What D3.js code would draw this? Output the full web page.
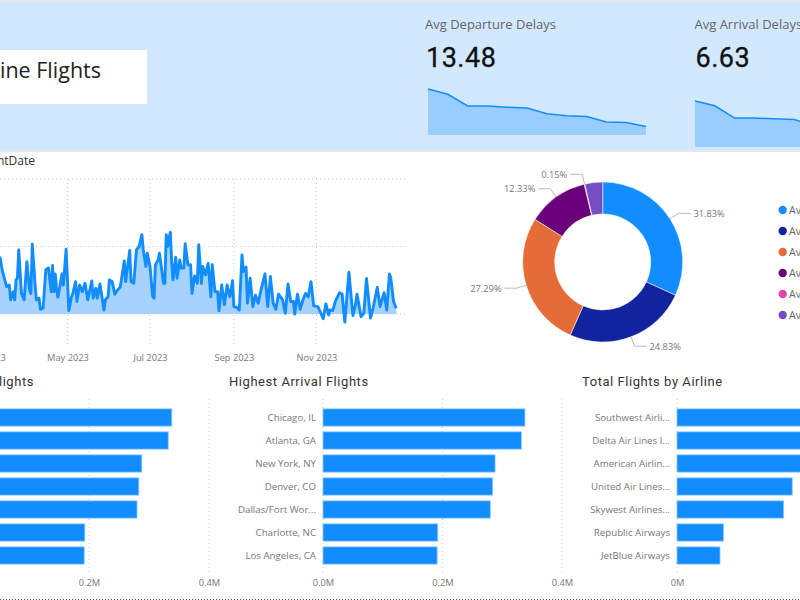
<!DOCTYPE html>
<html>
<head>
<meta charset="utf-8">
<script src="https://cdn.jsdelivr.net/npm/d3@7"></script>
<style>
html, body { margin: 0; padding: 0; background: #fff; overflow: hidden; }
svg { display: block; font-family: "Open Sans", sans-serif; }
.grid { stroke: #c8c8c8; stroke-dasharray: 1 3; fill: none; }
.tick-label { fill: #777; font-size: 9.3px; }
.cat-label { fill: #777; font-size: 9.7px; }
.title { fill: #333; font-family: Roboto, sans-serif; font-size: 13px; letter-spacing: 0.55px; }
</style>
</head>
<body>
<svg id="chart" width="800" height="600"></svg>
<script>
// days counted from 1 Jan 2023
var delayDays = [70, 72, 75, 77, 78, 80, 81, 82, 83, 84,
    86, 88, 90, 92, 93, 94, 96, 97, 99, 100,
    102, 104, 106, 108, 109, 110, 111, 112, 113, 116,
    117, 119, 121, 123, 124, 126, 127, 129, 131, 133,
    135, 138, 139, 141, 142, 144, 147, 148, 150, 151,
    153, 155, 157, 159, 162, 163, 166, 167, 169, 171,
    173, 175, 176, 178, 179, 181, 183, 184, 185, 187,
    188, 191, 192, 193, 194, 196, 197, 198, 200, 201,
    203, 204, 206, 207, 209, 211, 212, 214, 216, 217,
    219, 220, 222, 224, 226, 227, 229, 231, 232, 234,
    236, 238, 240, 241, 242, 243, 245, 247, 249, 250,
    252, 253, 255, 257, 259, 261, 263, 266, 268, 270,
    272, 274, 276, 279, 281, 283, 285, 287, 288, 290,
    292, 294, 296, 298, 300, 302, 305, 306, 309, 311,
    313, 314, 316, 318, 321, 323, 325, 328, 331, 333,
    334, 337, 339, 341, 344, 346, 349, 351, 354, 356,
    358, 359, 361, 363];
var delayValues = [17.0, 12.6, 8.1, 8.6, 4.2, 6.6, 4.2, 10.1, 10.6, 19.0,
    6.1, 4.2, 15.5, 7.1, 6.1, 20.7, 9.1, 4.2, 4.7, 1.4,
    1.7, 13.1, 13.6, 6.6, 14.4, 6.6, 11.9, 7.1, 5.0, 11.9,
    8.6, 19.2, 1.0, 5.1, 6.1, 9.6, 3.7, 8.6, 6.6, 9.1,
    4.2, 9.8, 4.7, 7.6, 4.7, 8.9, 1.2, 4.2, 5.1, 10.1,
    9.6, 5.9, 7.1, 7.9, 15.7, 9.6, 18.8, 9.6, 9.1, 19.0,
    20.0, 23.5, 19.0, 14.1, 18.0, 14.1, 5.1, 4.7, 14.6, 16.0,
    18.0, 9.1, 9.1, 23.5, 20.0, 24.2, 15.5, 10.1, 16.8, 10.6,
    16.0, 13.6, 13.6, 20.8, 14.6, 14.6, 6.1, 11.3, 9.1, 20.5,
    9.1, 14.1, 11.6, 15.0, 5.1, 14.6, 6.6, 6.6, 1.0, 8.6,
    2.7, 8.6, 5.1, 7.1, 9.9, 2.2, 2.0, 1.2, 17.5, 12.6,
    13.9, 3.2, 10.6, 2.2, 5.6, 3.2, 7.1, 11.9, 2.2, 11.1,
    3.2, 1.4, 5.9, 4.2, 0.2, 8.9, 3.7, 3.7, 0, 5.9,
    1.4, 4.2, 6.1, 5.1, 9.6, 2.4, 2.2, 1.4, -1.4, 3.0,
    -0.3, 1.2, 1.0, 3.7, 6.3, 5.9, -2.4, 12.4, -0.5, 3.0,
    5.9, -0.8, 0.2, 10.5, -1.2, 2.0, 7.9, 2.2, 6.3, 1.2,
    11.9, 10.6, 3.7, 1.7];

var departureSpark = [25.2, 22.3, 15.9, 15.9, 15.2, 14.8, 11.7, 10.6, 10.1, 7.1, 6.9, 4.6];
var arrivalSpark = [12.4, 11.1, 7.8, 7.8, 7.6, 7.4, 5.8, 5.2, 4.9, 3.5, 3.4, 2.2];

var donutNames = ["Avg Carrier Delay", "Avg Late Aircraft Delay", "Avg NAS Delay", "Avg Weather Delay", "Avg Security Delay", "Avg Other Delay"];
var donutValues = [31.83, 24.83, 27.29, 12.33, 0.15, 3.57];
var donutLabels = ["31.83%", "24.83%", "27.29%", "12.33%", "0.15%", ""];
var donutColors = ["#118DFF", "#12239E", "#E66C37", "#6B007B", "#E044A7", "#744EC2"];

var cities = ["Chicago, IL", "Atlanta, GA", "New York, NY", "Denver, CO", "Dallas/Fort Wor...", "Charlotte, NC", "Los Angeles, CA"];
var departureFlights = [0.338, 0.332, 0.288, 0.283, 0.280, 0.193, 0.192];
var arrivalFlights = [0.338, 0.332, 0.288, 0.284, 0.280, 0.192, 0.191];
var airlines = ["Southwest Airli...", "Delta Air Lines I...", "American Airlin...", "United Air Lines...", "Skywest Airlines...", "Republic Airways", "JetBlue Airways"];
var airlineFlights = [1.0, 0.9, 0.85, 0.67, 0.62, 0.27, 0.25];

var svg = d3.select("#chart");

// header band
svg.append("rect").attr("x", 0).attr("y", 0).attr("width", 800).attr("height", 152).attr("fill", "#e4e8ec");
svg.append("rect").attr("x", 0).attr("y", 2).attr("width", 800).attr("height", 148).attr("fill", "#d2e8ff");
svg.append("rect").attr("x", 0).attr("y", 50).attr("width", 147).attr("height", 54).attr("fill", "#fff");
svg.append("text").attr("x", 101).attr("y", 78).attr("text-anchor", "end")
    .attr("font-size", 21.5).attr("fill", "#222").text("Airline Flights");

function kpi(label, value, values, textLeft, left, base) {
    svg.append("text").attr("x", textLeft).attr("y", 29).attr("font-size", 13).attr("fill", "#666").text(label);
    svg.append("text").attr("x", textLeft + 1).attr("y", 67).attr("font-family", "Roboto, sans-serif")
        .attr("font-size", 27).attr("letter-spacing", 0.5).attr("fill", "#111")
        .attr("stroke", "#111").attr("stroke-width", 0.3).text(value);
    var x = d3.scalePoint().domain(d3.range(values.length)).range([left, left + 218]);
    var y = d3.scaleLinear().domain([0, d3.max(values)]).range([base, base - 46]);
    svg.append("path").datum(values).attr("fill", "#99cdff")
        .attr("d", d3.area().x(function (d, i) { return x(i); }).y0(base).y1(function (d) { return y(d); }));
    svg.append("path").datum(values).attr("fill", "none").attr("stroke", "#118DFF").attr("stroke-width", 1.5)
        .attr("d", d3.line().x(function (d, i) { return x(i); }).y(function (d) { return y(d); }));
}
kpi("Avg Departure Delays", "13.48", departureSpark, 425, 428, 135);
kpi("Avg Arrival Delays", "6.63", arrivalSpark, 694.5, 695, 147);

// line chart
svg.append("text").attr("x", 35).attr("y", 164.5).attr("text-anchor", "end")
    .attr("font-size", 12).attr("fill", "#333").text("Avg Delays by EventDate");

var start = new Date(Date.UTC(2023, 0, 1));
var lineX = d3.scaleUtc()
    .domain([start, new Date(Date.UTC(2023, 11, 31))])
    .range([-94.9, 397.6]);
var lineY = d3.scaleLinear().domain([-10, 40]).range([347.75, 179]);
var dayDate = function (d) { return d3.utcDay.offset(start, d); };

svg.append("g").selectAll("line").data(lineY.ticks(3).filter(function (d) { return d >= 0; })).join("line")
    .attr("class", "grid").attr("x1", 0).attr("x2", 405)
    .attr("y1", function (d) { return lineY(d); }).attr("y2", function (d) { return lineY(d); });
var monthTicks = lineX.ticks(d3.utcMonth.every(2));
svg.append("g").selectAll("line").data(monthTicks).join("line")
    .attr("class", "grid").attr("y1", 179).attr("y2", 347)
    .attr("x1", function (d) { return lineX(d); }).attr("x2", function (d) { return lineX(d); });

var xAxis = svg.append("g").attr("transform", "translate(0,347)")
    .call(d3.axisBottom(lineX).tickValues(monthTicks).tickSize(0).tickPadding(7).tickFormat(d3.utcFormat("%b %Y")));
xAxis.select(".domain").remove();
xAxis.selectAll("text").attr("class", "tick-label").attr("font-family", "Open Sans, sans-serif");

svg.append("path").datum(delayDays).attr("fill", "#a5d2ff")
    .attr("d", d3.area()
        .x(function (d) { return lineX(dayDate(d)); })
        .y0(lineY(0))
        .y1(function (d, i) { return lineY(Math.max(delayValues[i], 0)); }));
svg.append("path").datum(delayDays).attr("fill", "none").attr("stroke", "#118DFF").attr("stroke-width", 2.9)
    .attr("stroke-linejoin", "round")
    .attr("d", d3.line()
        .x(function (d) { return lineX(dayDate(d)); })
        .y(function (d, i) { return lineY(delayValues[i]); }));

// donut
var donut = svg.append("g").attr("transform", "translate(602.7,262)");
var pie = d3.pie().sort(null).value(function (d) { return d; });
var arc = d3.arc().innerRadius(48).outerRadius(80);
var rimArc = d3.arc().innerRadius(80).outerRadius(80);
var elbowArc = d3.arc().innerRadius(90).outerRadius(90);
var slices = pie(donutValues);

donut.selectAll("path.slice").data(slices).join("path")
    .attr("class", "slice")
    .attr("d", arc)
    .attr("fill", function (d, i) { return donutColors[i]; })
    .attr("stroke", "#fff").attr("stroke-width", 0.5);

slices.forEach(function (s, i) {
    if (!donutLabels[i]) return;
    var rim = rimArc.centroid(s);
    var elbow = elbowArc.centroid(s);
    var side = elbow[0] > 0 ? 1 : -1;
    donut.append("polyline").attr("fill", "none").attr("stroke", "#bbb")
        .attr("points", [rim, elbow, [elbow[0] + side * 12, elbow[1]]].join(" "));
    donut.append("text").attr("x", elbow[0] + side * 15).attr("y", elbow[1] + 3.5)
        .attr("text-anchor", side > 0 ? "start" : "end")
        .attr("font-size", 9.3).attr("fill", "#777").text(donutLabels[i]);
});

var legendY = d3.scalePoint().domain(donutNames).range([210, 315]);
donutNames.forEach(function (name, i) {
    svg.append("circle").attr("cx", 782.7).attr("cy", legendY(name)).attr("r", 4.2).attr("fill", donutColors[i]);
    svg.append("text").attr("x", 789).attr("y", legendY(name) + 4).attr("font-size", 10.5).attr("fill", "#666").text(name);
});

// bar charts
function barChart(title, titleX, anchor, names, values, domain, range, ticks, fmt) {
    svg.append("text").attr("class", "title").attr("x", titleX).attr("y", 386).attr("text-anchor", anchor).text(title);
    var x = d3.scaleLinear().domain(domain).range(range);
    var y = d3.scaleBand().domain(names).range([406, 567]).paddingInner(0.25).paddingOuter(0.125);

    svg.append("g").selectAll("line").data(ticks).join("line")
        .attr("class", "grid").attr("y1", 399).attr("y2", 574)
        .attr("x1", function (d) { return x(d); }).attr("x2", function (d) { return x(d); });

    svg.append("g").selectAll("rect").data(values).join("rect")
        .attr("x", x(0))
        .attr("y", function (d, i) { return y(names[i]); })
        .attr("width", function (d) { return x(d) - x(0); })
        .attr("height", y.bandwidth())
        .attr("fill", "#118DFF").attr("stroke", "#8cc6ff").attr("stroke-width", 0.8);

    var left = svg.append("g").attr("transform", "translate(" + x(0) + ",0)")
        .call(d3.axisLeft(y).tickSize(0).tickPadding(7));
    left.select(".domain").remove();
    left.selectAll("text").attr("class", "cat-label").attr("font-family", "Open Sans, sans-serif");

    var bottom = svg.append("g").attr("transform", "translate(0,576)")
        .call(d3.axisBottom(x).tickValues(ticks).tickSize(0).tickPadding(3).tickFormat(fmt));
    bottom.select(".domain").remove();
    bottom.selectAll("text").attr("class", "tick-label").attr("font-family", "Open Sans, sans-serif");
}
var millionsOne = function (d) { return d.toFixed(1) + "M"; };
var millions = function (d) { return d + "M"; };
barChart("Highest Departure Flights", 34, "end", cities, departureFlights, [0, 0.4], [-31, 209], [0, 0.2, 0.4], millionsOne);
barChart("Highest Arrival Flights", 229, "start", cities, arrivalFlights, [0, 0.4], [323, 562], [0, 0.2, 0.4], millionsOne);
barChart("Total Flights by Airline", 582, "start", airlines, airlineFlights, [0, 1], [677, 849], [0, 1], millions);

svg.append("line").attr("x1", 0).attr("x2", 800).attr("y1", 599.5).attr("y2", 599.5)
    .attr("stroke", "#555").attr("stroke-dasharray", "1 2");
</script>
</body>
</html>
